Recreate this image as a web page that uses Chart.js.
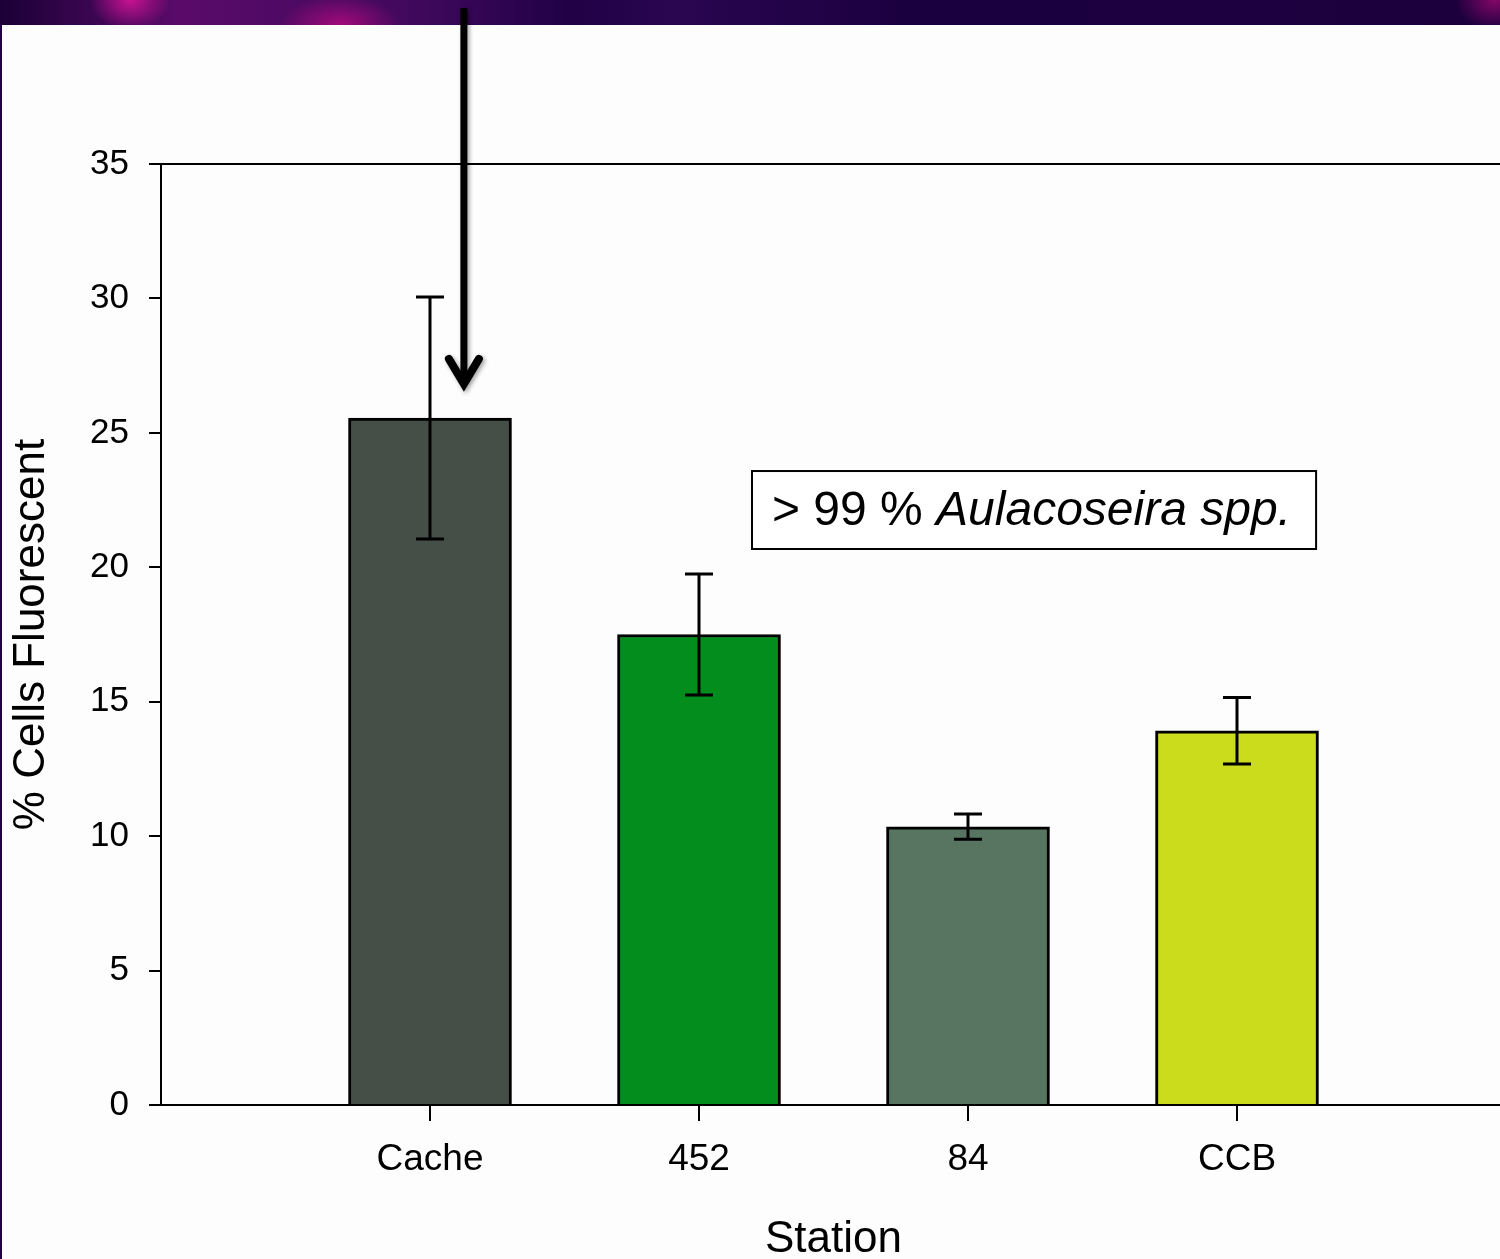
<!DOCTYPE html>
<html lang="en">
<head>
    <meta charset="UTF-8">
    <title>% Cells Fluorescent by Station</title>
    <script src="https://cdn.jsdelivr.net/npm/chart.js"></script>
    <style>
        html, body {
            margin: 0;
            width: 1500px;
            height: 1259px;
            overflow: hidden;
            background: #fdfdfd;
        }
        .band {
            position: absolute;
            left: 0;
            top: 0;
            width: 1500px;
            height: 25px;
            background:
                radial-gradient(ellipse 40px 30px at 130px 0px, rgba(230, 20, 160, 0.8), transparent),
                radial-gradient(ellipse 60px 30px at 340px 25px, rgba(200, 10, 130, 0.7), transparent),
                radial-gradient(ellipse 40px 30px at 1495px 0px, rgba(200, 10, 130, 0.6), transparent),
                linear-gradient(90deg, #1b0036 0%, #5a0b6a 12%, #42095e 27%, #210146 38%, #2a0650 45%, #1b0040 60%, #1c003e 100%);
        }
        .edge {
            position: absolute;
            left: 0;
            top: 25px;
            width: 2px;
            height: 1234px;
            background: #220048;
        }
        .wrap {
            position: absolute;
            left: 0;
            top: 0;
            width: 1520px;
            height: 1259px;
        }
    </style>
</head>
<body>
    <div class="band"></div>
    <div class="edge"></div>
    <div class="wrap"><canvas id="chart"></canvas></div>

    <script>
        const stations = ['Cache', '452', '84', 'CCB'];
        const fluorescent = [25.55, 17.5, 10.35, 13.92];
        const stdError = [4.5, 2.25, 0.47, 1.24];
        const barColors = ['#464e48', '#028d1d', '#587562', '#cadc1b'];
        const yTicks = [0, 5, 10, 15, 20, 25, 30, 35];

        // annotation placement, in axis units
        const noteText = '> 99 % ';
        const noteItalic = 'Aulacoseira spp.';
        const noteBox = { x0: 2.197, x1: 4.294, y0: 23.58, y1: 20.68 };
        const arrow = { x: 1.126, from: 40.8, to: 26.82 };

        const font = 'Liberation Sans, Arial, sans-serif';

        const extras = {
            id: 'extras',
            afterDatasetsDraw(chart) {
                const { ctx, scales: { x, y }, chartArea } = chart;
                ctx.save();
                ctx.strokeStyle = '#000';
                ctx.lineWidth = 3;
                fluorescent.forEach((v, i) => {
                    const px = x.getPixelForValue(i + 1);
                    const top = y.getPixelForValue(v + stdError[i]);
                    const bot = y.getPixelForValue(v - stdError[i]);
                    ctx.beginPath();
                    ctx.moveTo(px, top);
                    ctx.lineTo(px, bot);
                    ctx.moveTo(px - 14, top);
                    ctx.lineTo(px + 14, top);
                    ctx.moveTo(px - 14, bot);
                    ctx.lineTo(px + 14, bot);
                    ctx.stroke();
                });

                // frame line along the top
                ctx.lineWidth = 2;
                ctx.beginPath();
                ctx.moveTo(chartArea.left, chartArea.top);
                ctx.lineTo(chartArea.right, chartArea.top);
                ctx.stroke();

                // note box
                const bx = x.getPixelForValue(noteBox.x0);
                const bw = x.getPixelForValue(noteBox.x1) - bx;
                const by = y.getPixelForValue(noteBox.y0);
                const bh = y.getPixelForValue(noteBox.y1) - by;
                ctx.fillStyle = '#fff';
                ctx.fillRect(bx, by, bw, bh);
                ctx.strokeRect(bx, by, bw, bh);
                ctx.fillStyle = '#000';
                ctx.textBaseline = 'middle';
                ctx.textAlign = 'left';
                ctx.font = '48px ' + font;
                const ty = by + bh / 2 + 2;
                ctx.fillText(noteText, bx + 20, ty);
                const w = ctx.measureText(noteText).width;
                ctx.font = 'italic 48px ' + font;
                ctx.fillText(noteItalic, bx + 20 + w, ty);

                // arrow
                const ax = x.getPixelForValue(arrow.x);
                const ay0 = y.getPixelForValue(arrow.from);
                const ay1 = y.getPixelForValue(arrow.to);
                ctx.shadowColor = 'rgba(0,0,0,0.35)';
                ctx.shadowBlur = 4;
                ctx.shadowOffsetX = 2;
                ctx.shadowOffsetY = 2;
                ctx.lineWidth = 7;
                ctx.beginPath();
                ctx.moveTo(ax, ay0);
                ctx.lineTo(ax, ay1 - 4);
                ctx.stroke();
                ctx.lineWidth = 8;
                ctx.lineCap = 'round';
                ctx.lineJoin = 'miter';
                ctx.beginPath();
                ctx.moveTo(ax - 15, ay1 - 25);
                ctx.lineTo(ax, ay1);
                ctx.lineTo(ax + 15, ay1 - 25);
                ctx.stroke();
                ctx.restore();
            }
        };

        new Chart(document.getElementById('chart'), {
            type: 'bar',
            data: {
                datasets: [{
                    data: fluorescent.map((v, i) => ({ x: i + 1, y: v })),
                    backgroundColor: barColors,
                    borderColor: '#000',
                    borderWidth: 3,
                    borderSkipped: 'bottom',
                    barThickness: 163
                }]
            },
            options: {
                responsive: true,
                maintainAspectRatio: false,
                animation: false,
                layout: { padding: { top: 164, right: 14, left: 0, bottom: 0 } },
                plugins: { legend: { display: false }, tooltip: { enabled: false } },
                scales: {
                    x: {
                        type: 'linear',
                        offset: false,
                        min: 0,
                        max: stations.length + 1,
                        afterBuildTicks: s => {
                            s.ticks = stations.map((_, i) => ({ value: i + 1 }));
                        },
                        afterFit: s => { s.height = 154; },
                        grid: { offset: false, drawOnChartArea: false, color: '#000', lineWidth: 2, tickLength: 16 },
                        border: { color: '#000', width: 2 },
                        ticks: {
                            color: '#000',
                            font: { family: font, size: 37 },
                            padding: 17,
                            maxRotation: 0,
                            callback: v => stations[v - 1]
                        },
                        title: {
                            display: true,
                            text: 'Station',
                            color: '#000',
                            font: { family: font, size: 44, lineHeight: 1 },
                            padding: { top: 0, bottom: -3 }
                        }
                    },
                    y: {
                        min: 0,
                        max: 35,
                        afterBuildTicks: s => {
                            s.ticks = yTicks.map(v => ({ value: v }));
                        },
                        afterFit: s => { s.width = 161; },
                        grid: { drawOnChartArea: false, color: '#000', lineWidth: 2, tickLength: 12 },
                        border: { color: '#000', width: 2 },
                        ticks: {
                            color: '#000',
                            font: { family: font, size: 35 },
                            padding: 20
                        },
                        title: {
                            display: true,
                            text: '% Cells Fluorescent',
                            color: '#000',
                            font: { family: font, size: 44, lineHeight: 1 },
                            padding: { top: 10, bottom: 0 }
                        }
                    }
                }
            },
            plugins: [extras]
        });
    </script>
</body>
</html>
